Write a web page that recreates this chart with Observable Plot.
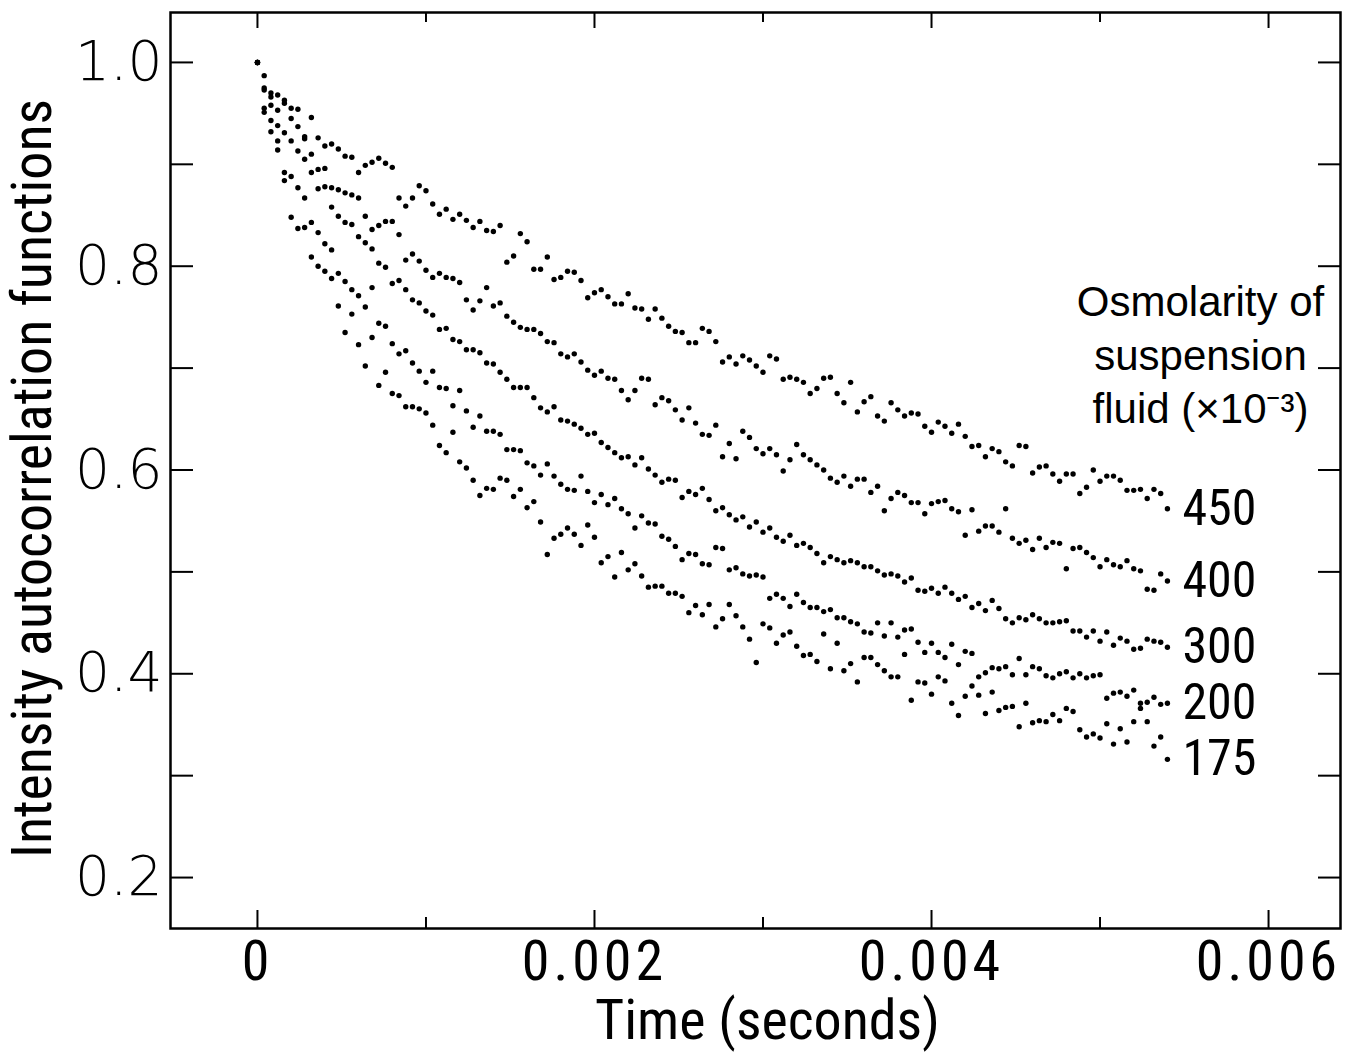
<!DOCTYPE html>
<html>
<head>
<meta charset="utf-8">
<script src="https://cdn.jsdelivr.net/npm/d3@7"></script>
<script src="https://cdn.jsdelivr.net/npm/@observablehq/plot@0.6"></script>
<style>
  html, body { margin: 0; padding: 0; background: #fff; }
  #chart svg { display: block; }
</style>
</head>
<body>
<div id="chart"></div>
<script>
// ---- data ----
const lagStep = 0.00004; // seconds between successive correlator channels
const osmolarity = ["450", "400", "300", "200", "175"];

const g450 = [1.000,0.987,0.970,0.968,0.963,0.955,0.954,0.927,0.946,0.926,
0.918,0.920,0.915,0.908,0.907,0.892,0.899,0.902,0.906,0.901,
0.897,0.867,0.859,0.867,0.879,0.874,0.861,0.851,0.856,0.846,
0.851,0.845,0.838,0.844,0.835,0.834,0.840,0.804,0.810,0.832,
0.824,0.797,0.797,0.809,0.787,0.789,0.795,0.794,0.786,0.769,
0.774,0.777,0.770,0.763,0.763,0.773,0.759,0.758,0.748,0.758,
0.749,0.741,0.736,0.735,0.725,0.725,0.739,0.736,0.726,0.706,
0.711,0.704,0.712,0.708,0.702,0.696,0.712,0.709,0.689,0.691,
0.689,0.686,0.675,0.680,0.690,0.691,0.675,0.666,0.686,0.657,
0.667,0.672,0.653,0.648,0.666,0.659,0.653,0.656,0.655,0.643,
0.637,0.647,0.643,0.636,0.645,0.633,0.623,0.624,0.613,0.621,
0.618,0.608,0.604,0.624,0.623,0.597,0.603,0.604,0.596,0.589,
0.596,0.596,0.577,0.583,0.600,0.589,0.594,0.594,0.590,0.580,
0.580,0.581,0.572,0.581,0.577,0.562];

const g400 = [1.000,0.975,0.966,0.953,0.960,0.945,0.937,0.925,0.910,0.895,
0.896,0.877,0.875,0.872,0.870,0.867,0.849,0.836,0.840,0.844,
0.844,0.831,0.806,0.812,0.805,0.796,0.789,0.793,0.789,0.788,
0.784,0.767,0.757,0.766,0.779,0.761,0.764,0.751,0.745,0.740,
0.738,0.738,0.734,0.726,0.725,0.714,0.711,0.714,0.706,0.698,
0.693,0.697,0.690,0.689,0.678,0.669,0.678,0.690,0.689,0.664,
0.671,0.668,0.659,0.649,0.661,0.646,0.635,0.634,0.644,0.613,
0.626,0.611,0.638,0.632,0.621,0.616,0.621,0.615,0.599,0.610,
0.625,0.615,0.610,0.605,0.600,0.592,0.588,0.594,0.584,0.591,
0.591,0.578,0.584,0.560,0.572,0.578,0.575,0.568,0.568,0.557,
0.567,0.569,0.570,0.562,0.559,0.536,0.561,0.540,0.545,0.545,
0.539,0.562,0.533,0.528,0.531,0.522,0.533,0.524,0.529,0.528,
0.503,0.523,0.524,0.519,0.514,0.505,0.512,0.507,0.505,0.511,
0.503,0.501,0.483,0.482,0.498,0.491];

const g300 = [1.000,0.973,0.958,0.938,0.931,0.923,0.913,0.905,0.892,0.876,
0.878,0.858,0.849,0.843,0.841,0.829,0.823,0.817,0.803,0.799,
0.783,0.786,0.777,0.767,0.764,0.756,0.752,0.738,0.739,0.728,
0.726,0.718,0.718,0.715,0.705,0.704,0.696,0.689,0.681,0.681,
0.681,0.671,0.661,0.657,0.662,0.649,0.648,0.645,0.641,0.635,
0.636,0.627,0.622,0.617,0.612,0.613,0.605,0.612,0.601,0.595,
0.588,0.591,0.590,0.573,0.579,0.576,0.582,0.571,0.560,0.563,
0.556,0.551,0.554,0.544,0.549,0.539,0.543,0.534,0.530,0.536,
0.526,0.528,0.524,0.518,0.509,0.515,0.512,0.509,0.511,0.509,
0.505,0.505,0.501,0.497,0.498,0.496,0.490,0.494,0.482,0.481,
0.484,0.479,0.485,0.479,0.473,0.476,0.465,0.469,0.462,0.472,
0.464,0.454,0.450,0.455,0.453,0.458,0.454,0.450,0.450,0.451,
0.452,0.442,0.442,0.436,0.442,0.432,0.441,0.428,0.435,0.432,
0.424,0.425,0.434,0.432,0.431,0.426];

const g200 = [1.000,0.955,0.943,0.923,0.892,0.888,0.877,0.867,0.843,0.833,
0.822,0.816,0.793,0.785,0.777,0.771,0.760,0.779,0.744,0.741,
0.724,0.714,0.717,0.705,0.697,0.686,0.697,0.681,0.680,0.663,
0.678,0.658,0.642,0.653,0.638,0.638,0.635,0.620,0.620,0.619,
0.607,0.604,0.595,0.606,0.594,0.586,0.581,0.580,0.594,0.579,
0.568,0.576,0.566,0.572,0.562,0.557,0.543,0.555,0.548,0.547,
0.535,0.532,0.525,0.512,0.518,0.517,0.508,0.507,0.524,0.523,
0.502,0.504,0.498,0.496,0.497,0.495,0.474,0.478,0.474,0.466,
0.478,0.470,0.465,0.465,0.461,0.463,0.455,0.455,0.451,0.449,
0.441,0.440,0.450,0.437,0.450,0.436,0.443,0.444,0.431,0.421,
0.430,0.421,0.416,0.429,0.409,0.422,0.420,0.397,0.401,0.406,
0.405,0.407,0.399,0.415,0.399,0.407,0.405,0.398,0.396,0.400,
0.402,0.396,0.400,0.396,0.398,0.399,0.376,0.381,0.382,0.378,
0.384,0.371,0.372,0.377,0.370,0.371];

const g175 = [1.000,0.951,0.932,0.914,0.884,0.848,0.837,0.838,0.809,0.800,
0.795,0.788,0.761,0.735,0.753,0.723,0.702,0.730,0.683,0.696,
0.675,0.673,0.662,0.662,0.660,0.656,0.644,0.624,0.617,0.637,
0.608,0.602,0.590,0.575,0.582,0.581,0.592,0.590,0.574,0.581,
0.563,0.569,0.549,0.517,0.533,0.537,0.543,0.537,0.526,0.546,
0.534,0.509,0.515,0.495,0.519,0.502,0.508,0.496,0.485,0.486,
0.486,0.479,0.479,0.476,0.460,0.467,0.458,0.468,0.446,0.454,
0.468,0.457,0.446,0.434,0.411,0.449,0.445,0.430,0.438,0.441,
0.427,0.418,0.419,0.412,0.439,0.405,0.430,0.403,0.410,0.392,
0.416,0.416,0.409,0.403,0.397,0.397,0.419,0.374,0.392,0.391,
0.380,0.397,0.393,0.371,0.359,0.378,0.388,0.379,0.361,0.382,
0.364,0.367,0.368,0.348,0.371,0.352,0.354,0.353,0.360,0.354,
0.366,0.363,0.345,0.338,0.341,0.337,0.351,0.331,0.346,0.333,
0.353,0.366,0.353,0.329,0.338,0.316];

const xMajorTicks = [0, 0.002, 0.004, 0.006];
const xMinorTicks = [0.001, 0.003, 0.005];
const yTicks = [0.2, 0.3, 0.4, 0.5, 0.6, 0.7, 0.8, 0.9, 1.0];
const yLabelTicks = [0.2, 0.4, 0.6, 0.8, 1.0];
const xTitle = "Time (seconds)";
const yTitle = "Intensity autocorrelation functions";
const legendTitle = "Osmolarity of\nsuspension\nfluid (×10\u207B\u00B3)";

// ---- build table ----
const seriesValues = [g450, g400, g300, g200, g175];
const rows = [];
seriesValues.forEach((vals, k) => {
  vals.forEach((v, i) => rows.push({series: osmolarity[k], t: i * lagStep, g: v}));
});
const endRows = seriesValues.map((vals, k) => ({
  series: osmolarity[k], t: (vals.length - 1) * lagStep, g: vals[vals.length - 1]
}));

// ---- layout ----
const W = 1367, H = 1055;
const mL = 170, mR = 27, mT = 12, mB = 127;
const plotW = W - mL - mR, plotH = H - mT - mB;
const narrow = "'Liberation Sans Narrow', 'Roboto Condensed', 'Liberation Sans', sans-serif";
const roundFont = "'DejaVu Sans', 'Liberation Sans', sans-serif";

const chart = Plot.plot({
  width: W, height: H,
  marginLeft: mL, marginRight: mR, marginTop: mT, marginBottom: mB,
  style: {background: "#fff", color: "#000"},
  x: {domain: [-0.000516, 0.006427], axis: null},
  y: {domain: [0.150, 1.049], axis: null},
  marks: [
    // inward ticks
    Plot.tickY(yTicks, {y: d => d, insetRight: plotW - 23, stroke: "#000", strokeWidth: 2}),
    Plot.tickY(yTicks, {y: d => d, insetLeft: plotW - 22, stroke: "#000", strokeWidth: 2}),
    Plot.tickX(xMajorTicks, {x: d => d, insetTop: plotH - 18, stroke: "#000", strokeWidth: 2}),
    Plot.tickX(xMinorTicks, {x: d => d, insetTop: plotH - 11, stroke: "#000", strokeWidth: 2}),
    Plot.tickX(xMajorTicks, {x: d => d, insetBottom: plotH - 16, stroke: "#000", strokeWidth: 2}),
    Plot.tickX(xMinorTicks, {x: d => d, insetBottom: plotH - 10, stroke: "#000", strokeWidth: 2}),
    Plot.frame({stroke: "#000", strokeWidth: 2.5}),
    // tick labels
    Plot.axisY({ticks: yLabelTicks, tickSize: 0, tickPadding: 8, tickFormat: d => d.toFixed(1),
      fontSize: 55, fontFamily: roundFont, fontWeight: 200, label: null}),
    Plot.axisX({ticks: xMajorTicks, tickSize: 0, tickPadding: 12,
      tickFormat: d => d === 0 ? "0" : d.toFixed(3),
      fontSize: 56, fontFamily: narrow, label: null}),
    // data points
    Plot.dot(rows, {x: "t", y: "g", r: 2.7, fill: "#000", stroke: "none"}),
    // series labels
    Plot.text(endRows, {x: "t", y: "g", text: "series", dx: 15, textAnchor: "start",
      fontSize: 50, fontFamily: narrow}),
    // legend title
    Plot.text([legendTitle], {text: d => d, frameAnchor: "top-right", dx: -140, dy: 340,
      textAnchor: "middle", lineAnchor: "middle", lineHeight: 1.28, fontSize: 42,
      fontFamily: "'Liberation Sans', sans-serif"}),
    // axis titles
    Plot.text([xTitle], {text: d => d, frameAnchor: "bottom", dx: 12, dy: 110,
      fontSize: 56, fontFamily: narrow}),
    Plot.text([yTitle], {text: d => d, frameAnchor: "left", textAnchor: "middle", rotate: -90,
      dx: -137, dy: 8, fontSize: 56, fontFamily: narrow})
  ]
});
// widen the spacing of the x tick labels a little, as in the original typesetting
chart.querySelectorAll('g[aria-label="x-axis tick label"] text').forEach(t => {
  t.style.letterSpacing = "4px";
});
document.getElementById("chart").appendChild(chart);
</script>
</body>
</html>
